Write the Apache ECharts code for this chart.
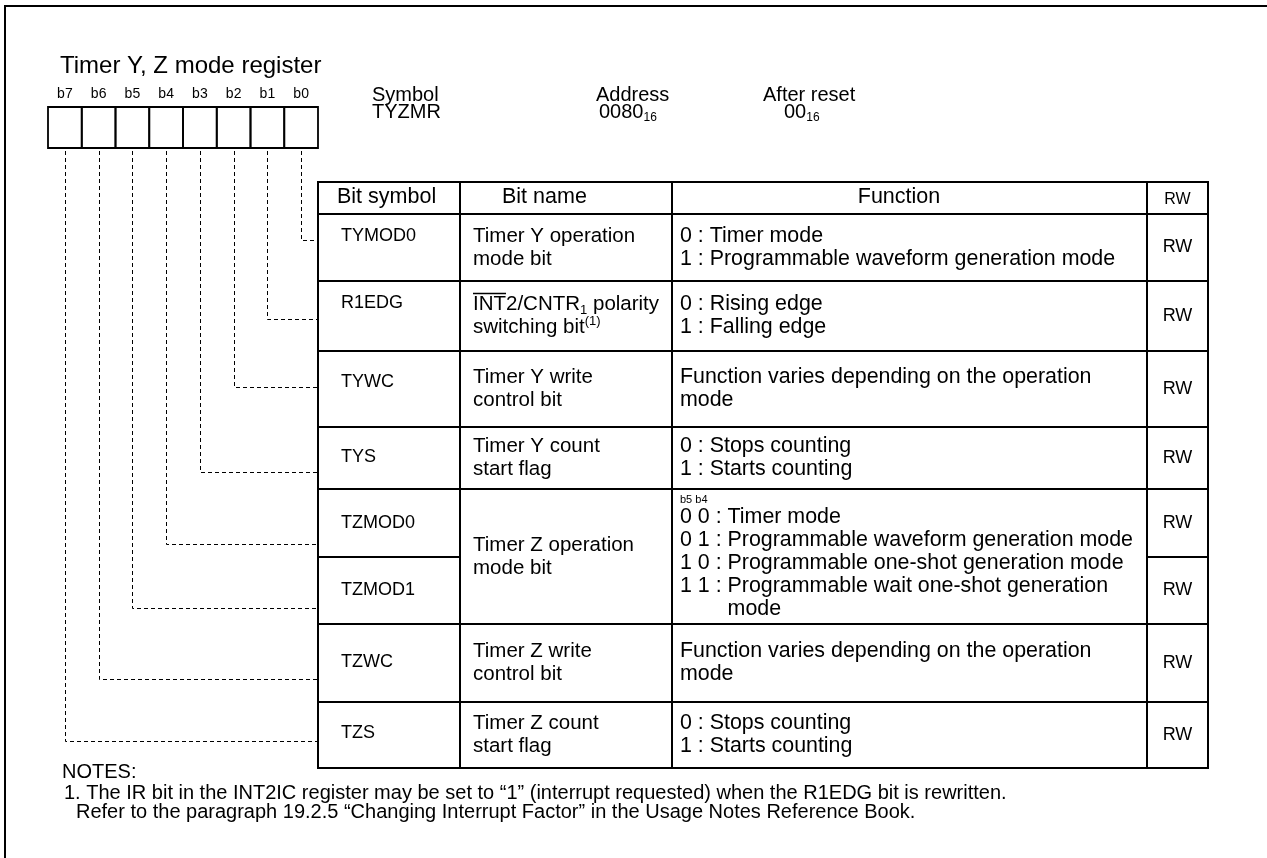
<!DOCTYPE html>
<html><head><meta charset="utf-8">
<script src="https://cdn.jsdelivr.net/npm/echarts@6/dist/echarts.min.js"></script>
<style>html,body{margin:0;padding:0;background:#fff}#c{width:1267px;height:858px}</style>
</head><body><div id="c"></div>
<script>
// ---------------- data ----------------
const titleText = 'Timer Y, Z mode register';
const bitLabels = ['b7','b6','b5','b4','b3','b2','b1','b0'];
const regHeaderLabels = ['Symbol','Address','After reset'];
const regHeaderValues = ['TYZMR','0080_16','00_16'];
const columnHeaders = ['Bit symbol','Bit name','Function','RW'];
const bitSymbols = ['TYMOD0','R1EDG','TYWC','TYS','TZMOD0','TZMOD1','TZWC','TZS'];
const symbolBits = [0,1,2,3,4,5,6,7];
const bitNames = [
  ['Timer Y operation','mode bit'],
  ['~INT~2/CNTR_1 polarity','switching bit^(1)'],
  ['Timer Y write','control bit'],
  ['Timer Y count','start flag'],
  ['Timer Z operation','mode bit'],
  null,
  ['Timer Z write','control bit'],
  ['Timer Z count','start flag']
];
const functionHeads = [null,null,null,null,'b5 b4',null,null,null];
const functionTexts = [
  ['0 : Timer mode','1 : Programmable waveform generation mode'],
  ['0 : Rising edge','1 : Falling edge'],
  ['Function varies depending on the operation','mode'],
  ['0 : Stops counting','1 : Starts counting'],
  ['0 0 : Timer mode','0 1 : Programmable waveform generation mode','1 0 : Programmable one-shot generation mode','1 1 : Programmable wait one-shot generation','      mode'],
  null,
  ['Function varies depending on the operation','mode'],
  ['0 : Stops counting','1 : Starts counting']
];
const rwAccess = ['RW','RW','RW','RW','RW','RW','RW','RW'];
const notesTitle = 'NOTES:';
const notesLines = [
  '1. The IR bit in the INT2IC register may be set to \u201c1\u201d (interrupt requested) when the R1EDG bit is rewritten.',
  'Refer to the paragraph 19.2.5 \u201cChanging Interrupt Factor\u201d in the Usage Notes Reference Book.'
];

// ---------------- layout (pixel space of the hidden axes) ----------------
const W = 1267, H = 858;
const FF = '"Liberation Sans", Arial, Helvetica, sans-serif';
const LAY = {
  frameX: 5, frameY: 6,
  titleX: 60, titleY: 66, titleSize: 24,
  boxX0: 48, boxW: 33.75, boxTop: 107, boxBottom: 148, bitLabelY: 94, bitLabelSize: 14,
  regX: [372, 596, 763], regValX: [372, 599, 784], regY: [95, 112], regSize: 20,
  cols: [318, 460, 672, 1147, 1208],
  tableTop: 182, headerBottom: 214,
  rowEdges: [214, 281, 351, 427, 489, 557, 624, 702, 768],
  connectorY: [240, 319, 387, 472, 544, 608, 679, 741],
  symbolDy: [-11, -13, -7, -1, 0, 0, -1, -2],
  headX: [337, 502, 899], headSize: 21.5, headY: 197, rwHeadSize: 16,
  symX: 341, symSize: 18,
  nameX: 473, nameSize: 20.5, namePitch: 23,
  funcX: 680, funcSize: 21.4, funcPitch: 23, funcHeadSize: 11,
  rwSize: 18,
  notesX: 62, notesY: 772, notesSize: 20, notesLineX: [64, 76], notesLineY: [793, 812]
};

const mctx = document.createElement('canvas').getContext('2d');
function measure(s, size) { mctx.font = size + 'px ' + FF; return mctx.measureText(s).width; }

function parse(str) {
  const re = /~([^~]+)~|_(\d+)|\^(\([^)]*\))/g; const out = []; let last = 0, m;
  while ((m = re.exec(str))) {
    if (m.index > last) out.push({t: 'n', s: str.slice(last, m.index)});
    if (m[1] !== undefined) out.push({t: 'n', s: m[1], over: true});
    else if (m[2] !== undefined) out.push({t: 'sb', s: m[2]});
    else out.push({t: 'sp', s: m[3]});
    last = re.lastIndex;
  }
  if (last < str.length) out.push({t: 'n', s: str.slice(last)});
  return out;
}

function textEls(api, x, y, str, size, align) {
  const p = api.coord([x, y]);
  const toks = parse(str);
  const rich = toks.some(t => t.t !== 'n' || t.over);
  const sub = Math.round(size * 0.62);
  const style = {x: p[0], y: p[1], fill: '#000', textAlign: align || 'left', textVerticalAlign: 'middle', font: size + 'px ' + FF};
  if (!rich) { style.text = str; }
  else {
    style.text = toks.map(t => '{' + t.t + '|' + t.s + '}').join('');
    style.rich = {
      n: {fontSize: size, fontFamily: FF, lineHeight: Math.round(size * 1.2)},
      sb: {fontSize: sub, fontFamily: FF, lineHeight: sub + 1, verticalAlign: 'bottom'},
      sp: {fontSize: sub, fontFamily: FF, lineHeight: sub + 1, verticalAlign: 'top'}
    };
  }
  const els = [{type: 'text', style: style, silent: true}];
  let cx = p[0];
  toks.forEach(t => {
    const w = measure(t.s, t.t === 'n' ? size : sub);
    if (t.over) {
      const oy = Math.round(p[1] - size * 0.5) - 0.5;
      els.push({type: 'line', shape: {x1: cx, y1: oy, x2: cx + w, y2: oy}, style: {stroke: '#000', lineWidth: 1.5}});
    }
    cx += w;
  });
  return els;
}
function lineEl(api, x1, y1, x2, y2, lw, dash) {
  const a = api.coord([x1, y1]), b = api.coord([x2, y2]);
  return {type: 'line', shape: {x1: a[0], y1: a[1], x2: b[0], y2: b[1]}, style: {stroke: '#000', lineWidth: lw, lineDash: dash || null}};
}

// ---------- series: frame, title, register header, table frame, notes ----------
function renderFrame(params, api) {
  const c = [];
  const f = api.coord([LAY.frameX, LAY.frameY]);
  c.push({type: 'rect', shape: {x: f[0], y: f[1], width: W + 40, height: H + 40}, style: {fill: null, stroke: '#000', lineWidth: 2}});
  c.push(...textEls(api, LAY.titleX, LAY.titleY, titleText, LAY.titleSize));
  regHeaderLabels.forEach((s, i) => c.push(...textEls(api, LAY.regX[i], LAY.regY[0], s, LAY.regSize)));
  regHeaderValues.forEach((s, i) => c.push(...textEls(api, LAY.regValX[i], LAY.regY[1], s, LAY.regSize)));
  const cols = LAY.cols, top = LAY.tableTop, bot = LAY.rowEdges[LAY.rowEdges.length - 1];
  c.push(lineEl(api, cols[0], top, cols[4], top, 2));
  c.push(lineEl(api, cols[0], bot, cols[4], bot, 2));
  cols.forEach(x => c.push(lineEl(api, x, top - 1, x, bot + 1, 2)));
  c.push(lineEl(api, cols[0], LAY.headerBottom, cols[4], LAY.headerBottom, 2));
  c.push(...textEls(api, LAY.headX[0], LAY.headY, columnHeaders[0], LAY.headSize));
  c.push(...textEls(api, LAY.headX[1], LAY.headY, columnHeaders[1], LAY.headSize));
  c.push(...textEls(api, LAY.headX[2], LAY.headY, columnHeaders[2], LAY.headSize, 'center'));
  c.push(...textEls(api, (cols[3] + cols[4]) / 2, LAY.headY + 3, columnHeaders[3], LAY.rwHeadSize, 'center'));
  c.push(...textEls(api, LAY.notesX, LAY.notesY, notesTitle, LAY.notesSize));
  notesLines.forEach((s, i) => c.push(...textEls(api, LAY.notesLineX[i], LAY.notesLineY[i], s, LAY.notesSize)));
  return {type: 'group', children: c};
}

// ---------- series: bit boxes + dashed connectors ----------
function renderBits(params, api) {
  const i = api.value(0);
  const x0 = LAY.boxX0 + i * LAY.boxW;
  const tl = api.coord([x0, LAY.boxTop]), br = api.coord([x0 + LAY.boxW, LAY.boxBottom]);
  const c = [];
  c.push({type: 'rect', shape: {x: tl[0], y: tl[1], width: br[0] - tl[0], height: br[1] - tl[1]}, style: {fill: null, stroke: '#000', lineWidth: 1.8}});
  const cx = x0 + LAY.boxW / 2;
  c.push(...textEls(api, cx, LAY.bitLabelY, bitLabels[i], LAY.bitLabelSize, 'center'));
  const bit = 7 - i;
  const r = symbolBits.indexOf(bit);
  const cy = LAY.connectorY[r];
  const px = Math.round(cx) + 0.5, py = Math.round(cy) + 0.5;
  const pts = [[px, LAY.boxBottom + 3], [px, py], [LAY.cols[0], py]].map(q => api.coord(q));
  c.push({type: 'polyline', shape: {points: pts}, style: {fill: null, stroke: '#000', lineWidth: 1, lineDash: [4, 3]}});
  return {type: 'group', children: c};
}

// ---------- series: table rows (symbol, RW, separators) ----------
function renderRows(params, api) {
  const i = api.value(0);
  const e = LAY.rowEdges, cols = LAY.cols;
  const top = e[i], bot = e[i + 1], mid = (top + bot) / 2;
  const c = [];
  c.push(...textEls(api, LAY.symX, mid + LAY.symbolDy[i], bitSymbols[i], LAY.symSize));
  c.push(...textEls(api, (cols[3] + cols[4]) / 2, mid, rwAccess[i], LAY.rwSize, 'center'));
  if (i < bitSymbols.length - 1) {
    if (bitNames[i + 1] === null) {
      c.push(lineEl(api, cols[0], bot, cols[1], bot, 2));
      c.push(lineEl(api, cols[3], bot, cols[4], bot, 2));
    } else {
      c.push(lineEl(api, cols[0], bot, cols[4], bot, 2));
    }
  }
  return {type: 'group', children: c};
}

// ---------- series: bit name / function cells ----------
function renderCells(params, api) {
  const i = api.value(0);
  if (bitNames[i] === null) return {type: 'group', children: []};
  const e = LAY.rowEdges;
  let span = 1;
  while (i + span < bitNames.length && bitNames[i + span] === null) span++;
  const top = e[i], bot = e[i + span], mid = (top + bot) / 2;
  const c = [];
  const names = bitNames[i];
  names.forEach((s, k) => c.push(...textEls(api, LAY.nameX, mid + (k - (names.length - 1) / 2) * LAY.namePitch, s, LAY.nameSize)));
  const fl = functionTexts[i];
  const head = functionHeads[i];
  const headH = head ? LAY.funcHeadSize + 2 : 0;
  const blockH = headH + fl.length * LAY.funcPitch;
  let y = mid - blockH / 2;
  if (head) { c.push(...textEls(api, LAY.funcX, y + headH / 2 + 1, head, LAY.funcHeadSize)); y += headH; }
  const hang = measure('1 1 : ', LAY.funcSize);
  fl.forEach((s, k) => {
    const ind = /^\s/.test(s) ? hang : 0;
    c.push(...textEls(api, LAY.funcX + ind, y + (k + 0.5) * LAY.funcPitch, s.trim(), LAY.funcSize));
  });
  return {type: 'group', children: c};
}

const chart = echarts.init(document.getElementById('c'), null, {renderer: 'canvas', width: W, height: H});
chart.setOption({
  animation: false,
  backgroundColor: '#fff',
  grid: {left: 0, right: 0, top: 0, bottom: 0},
  xAxis: {type: 'value', min: 0, max: W, show: false},
  yAxis: {type: 'value', min: 0, max: H, inverse: true, show: false},
  series: [
    {type: 'custom', name: 'frame', data: [[0, 0]], renderItem: renderFrame, silent: true},
    {type: 'custom', name: 'bits', data: bitLabels.map((_, i) => [i, 0]), renderItem: renderBits, silent: true},
    {type: 'custom', name: 'rows', data: bitSymbols.map((_, i) => [i, 0]), renderItem: renderRows, silent: true},
    {type: 'custom', name: 'cells', data: bitNames.map((_, i) => [i, 0]), renderItem: renderCells, silent: true}
  ]
});
</script>
</body></html>
